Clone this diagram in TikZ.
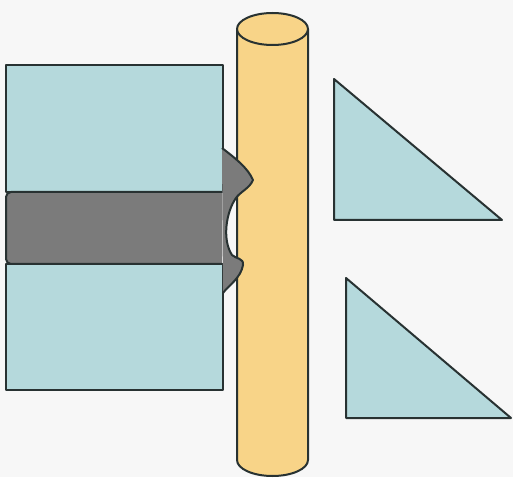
\documentclass[tikz,border=0pt]{standalone}
\usepackage{tikz}

\definecolor{plate}{HTML}{B5D9DC}
\definecolor{glue}{HTML}{7B7B7B}
\definecolor{rod}{HTML}{F8D488}
\definecolor{edgegray}{HTML}{283232}
\definecolor{paper}{HTML}{F7F7F7}

\begin{document}
\begin{tikzpicture}[x=0.5mm, y=0.5mm, line join=round,
		outline/.style = {draw=edgegray, line width=1mm},
		platepart/.style = {outline, fill=plate},
		gluepart/.style = {outline, fill=glue},
		rodpart/.style = {outline, fill=rod}]
			\fill[paper] (0,0) rectangle (513,477);
			\useasboundingbox (0,0) rectangle (513,477);
			
			% two plates on the left
			\draw[platepart] (6,285) rectangle (223,412);
			\draw[platepart] (6,87) rectangle (223,213);
			
			% glue layer between them
			\fill[glue] (222,285) -- (11,285) arc (90:180:5) -- (6,218) arc (180:270:5) -- (222,213) -- cycle;
			\draw[outline] (222,285) -- (11,285) arc (90:180:5) -- (6,218) arc (180:270:5) -- (222,213);
			
			% the rod
			\fill[rod] (237,448) -- (237,17) arc (180:360:35.5 and 16) -- (308,448) -- cycle;
			\draw[outline] (237,448) -- (237,17) arc (180:360:35.5 and 16) -- (308,448);
			\draw[rodpart] (272.5,448) ellipse (35.5 and 16);
			
			% glue squeezed out against the rod
			\fill[glue] (222,329) .. controls (235,319) and (248,309) .. (253,297)
				.. controls (250,289) and (240,285) .. (236,279)
				.. controls (226,265) and (222,237) .. (232,222)
				.. controls (236,218) and (244,219) .. (243,212)
				.. controls (241,199) and (228,191) .. (223,184) -- cycle;
			\draw[outline] (222,329) .. controls (235,319) and (248,309) .. (253,297)
				.. controls (250,289) and (240,285) .. (236,279)
				.. controls (226,265) and (222,237) .. (232,222)
				.. controls (236,218) and (244,219) .. (243,212)
				.. controls (241,199) and (228,191) .. (223,184);
			
			% wedges on the right
			\draw[platepart] (334,398) -- (334,257) -- (502,257) -- cycle;
			\draw[platepart] (346,199) -- (346,59) -- (511,59) -- cycle;
			
			\end{tikzpicture}
\end{document}
